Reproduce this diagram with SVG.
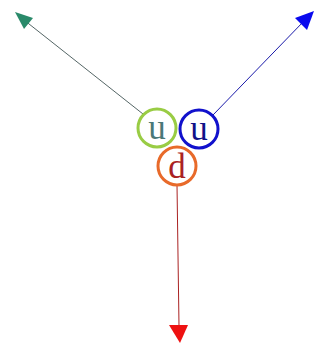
<svg xmlns="http://www.w3.org/2000/svg" width="322" height="348" viewBox="0 0 322 348">
<style>
.c{fill:none;stroke-width:3}
.t{font-family:"Liberation Serif",serif;font-size:35px;text-anchor:middle}
.l{fill:none;stroke-width:1}
</style>
<rect width="322" height="348" fill="#fff"/>
<g id="connectors">
<line x1="143" y1="114" x2="24" y2="20" stroke="#556666" class="l"/>
<polygon points="15,12 33,18 24,29" fill="#2a8a6a"/>
<line x1="213" y1="115" x2="304" y2="21" stroke="#1a1aaa" class="l"/>
<polygon points="314,11 307,30 295,18" fill="#0a0aee"/>
<line x1="177" y1="185" x2="179" y2="326" stroke="#aa2222" class="l"/>
<polygon points="169,325 188,325 180,343" fill="#ee1111"/>
</g>
<g id="u1"><circle cx="157" cy="128" r="19" class="c" stroke="#99cc44"/><text x="157" y="139" class="t" fill="#4a7878">u</text></g>
<g id="u2"><circle cx="199" cy="129" r="19" class="c" stroke="#1111cc"/><text x="199" y="140" class="t" fill="#111188">u</text></g>
<g id="d"><circle cx="177" cy="166" r="19" class="c" stroke="#e86a2a"/><text x="177" y="178" class="t" fill="#aa2222">d</text></g>
</svg>
